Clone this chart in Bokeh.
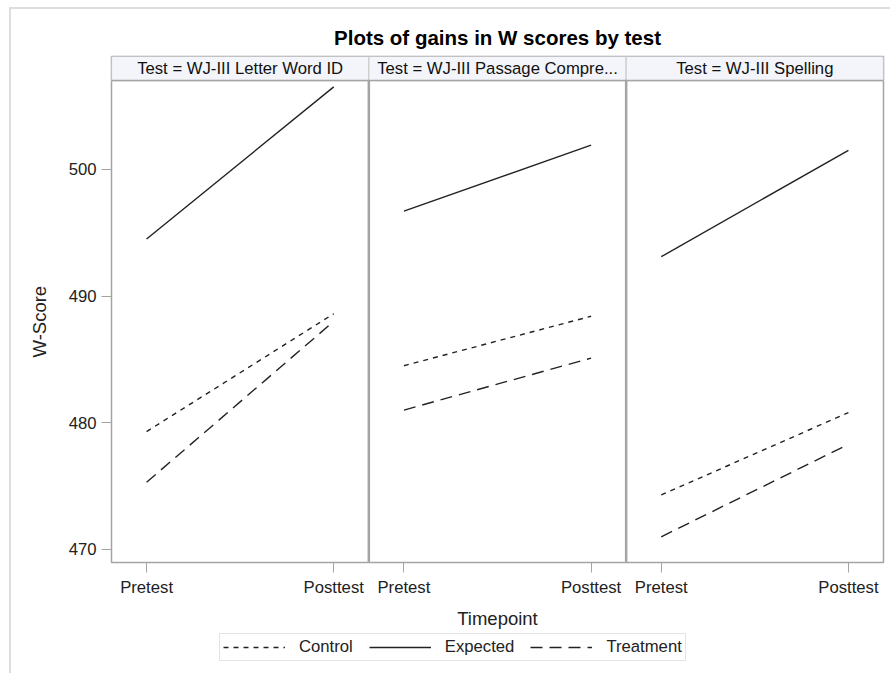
from bokeh.plotting import figure
from bokeh.layouts import column
from bokeh.models import FixedTicker, Legend, LegendItem, Range1d, Title
from bokeh.embed import file_html
from bokeh.resources import INLINE
from bokeh.core.properties import value

# ---- data ----
tests = ["WJ-III Letter Word ID", "WJ-III Passage Compre...", "WJ-III Spelling"]
timepoints = ["Pretest", "Posttest"]
control_pre = [479.3, 484.5, 474.3]
control_post = [488.6, 488.4, 480.8]
expected_pre = [494.5, 496.7, 493.1]
expected_post = [506.5, 501.9, 501.5]
treatment_pre = [475.3, 481.0, 471.0]
treatment_post = [488.0, 485.1, 478.3]
y_ticks = [470, 480, 490, 500]
series_names = ["Control", "Expected", "Treatment"]

# ---- layout / style constants ----
FONT = "Liberation Sans"
STEP = 1.375
PAD = (STEP - 1) / 2
Y_BOTTOM = 468.97
Y_PANEL_TOP = 507.0
Y_TOP = 508.9
LINE_COLOR = "#222222"
BORDER = "#a4a4a4"
DASHES = {"Control": "5 5", "Expected": "solid", "Treatment": "12 7"}

n = len(tests)
x_lo = -PAD
x_hi = (n - 1) * STEP + 1 + PAD

def seg_xy(pre, post):
    xs = [[i * STEP, i * STEP + 1] for i in range(n)]
    ys = [[pre[i], post[i]] for i in range(n)]
    return xs, ys

series = {"Control": seg_xy(control_pre, control_post),
          "Expected": seg_xy(expected_pre, expected_post),
          "Treatment": seg_xy(treatment_pre, treatment_post)}

p = figure(width=879, height=624,
           x_range=Range1d(x_lo, x_hi), y_range=Range1d(Y_BOTTOM, Y_TOP),
           output_backend="svg", toolbar_location=None,
           min_border_left=100, min_border_right=7,
           min_border_top=47, min_border_bottom=71,
           title="Plots of gains in W scores by test")

p.title.align = "center"
p.title.text_font = FONT
p.title.text_font_size = "20.5px"
p.title.text_font_style = "bold"
p.title.text_color = "#000000"
p.title.standoff = 16

p.grid.visible = False
p.outline_line_color = BORDER
p.outline_line_width = 1.5
p.background_fill_color = "white"
p.border_fill_color = "white"

# headers
lefts = [i * STEP - PAD for i in range(n)]
rights = [i * STEP + 1 + PAD for i in range(n)]
p.quad(left=lefts, right=rights, bottom=Y_PANEL_TOP, top=Y_TOP,
       fill_color="#f3f5fa", line_color="#cccccc", line_width=1.2)
p.text(x=[i * STEP + 0.5 for i in range(n)],
       y=[(Y_PANEL_TOP + Y_TOP) / 2] * n,
       text=["Test = " + t for t in tests],
       text_align="center", text_baseline="middle",
       text_font=value(FONT), text_font_size="16.7px", text_color="#111111")

# panel borders
p.segment(x0=[x_lo], y0=[Y_PANEL_TOP], x1=[x_hi], y1=[Y_PANEL_TOP],
          line_color=BORDER, line_width=1.5)
div_x = [i * STEP + 1 + PAD for i in range(n - 1)]
p.segment(x0=div_x, y0=[Y_BOTTOM] * (n - 1), x1=div_x, y1=[Y_PANEL_TOP] * (n - 1),
          line_color=BORDER, line_width=2.5)

# series lines
for name in series_names:
    xs, ys = series[name]
    p.multi_line(xs, ys, line_color=LINE_COLOR, line_width=1.4, line_dash=DASHES[name])

# axes
ticks = []
overrides = {}
for i in range(n):
    for j, tp in enumerate(timepoints):
        t = i * STEP + j
        ticks.append(t)
        overrides[t] = tp
p.xaxis.ticker = FixedTicker(ticks=ticks)
p.xaxis.major_label_overrides = overrides
p.xaxis.axis_label = "Timepoint"
p.xaxis.axis_label_standoff = 8
p.yaxis.ticker = FixedTicker(ticks=y_ticks)

for ax in (p.xaxis, p.yaxis):
    ax.axis_line_color = None
    ax.major_tick_line_color = BORDER
    ax.major_tick_out = 10
    ax.major_tick_in = 0
    ax.minor_tick_line_color = None
    ax.major_label_text_font = FONT
    ax.major_label_text_font_size = "16.7px"
    ax.major_label_text_color = "#222222"
    ax.major_label_standoff = 5
    ax.axis_label_text_font = FONT
    ax.axis_label_text_font_size = "18.5px"
    ax.axis_label_text_font_style = "normal"
    ax.axis_label_text_color = "#222222"

# y-axis label as a left-side title (centred on the panel area, not the header)
p.add_layout(Title(text="W-Score", align="left", offset=205, vertical_align="middle",
                   standoff=30, text_font=FONT, text_font_size="18.5px",
                   text_font_style="normal", text_color="#222222"), "left")

# ---- legend strip below the plot (same series, drawn out of view) ----
pl = figure(width=879, height=40, x_range=Range1d(x_lo, x_hi), y_range=Range1d(0, 1),
            output_backend="svg", toolbar_location=None,
            x_axis_location=None, y_axis_location=None,
            min_border_left=0, min_border_right=0, min_border_top=0, min_border_bottom=0)
pl.grid.visible = False
pl.outline_line_color = None
pl.border_fill_color = "white"
pl.background_fill_color = "white"
items = []
for name in series_names:
    xs, ys = series[name]
    r = pl.multi_line(xs, ys, line_color=LINE_COLOR, line_width=1.4, line_dash=DASHES[name])
    items.append(LegendItem(label=name, renderers=[r]))

legend = Legend(items=items, orientation="horizontal", location=(108, 12),
                glyph_width=62, glyph_height=20, label_standoff=14, spacing=16,
                padding=3, margin=0, border_line_color="#c8c8c8", border_line_width=1,
                background_fill_color="white", background_fill_alpha=1.0,
                label_text_font=FONT, label_text_font_size="16.7px",
                label_text_color="#222222")
pl.add_layout(legend)

layout = column(p, pl, spacing=0,
                styles={"margin-left": "9px", "margin-top": "7px",
                        "border-left": "2px solid #dedede", "border-top": "2px solid #dedede"})

open("out.html", "w").write(file_html(layout, INLINE))
